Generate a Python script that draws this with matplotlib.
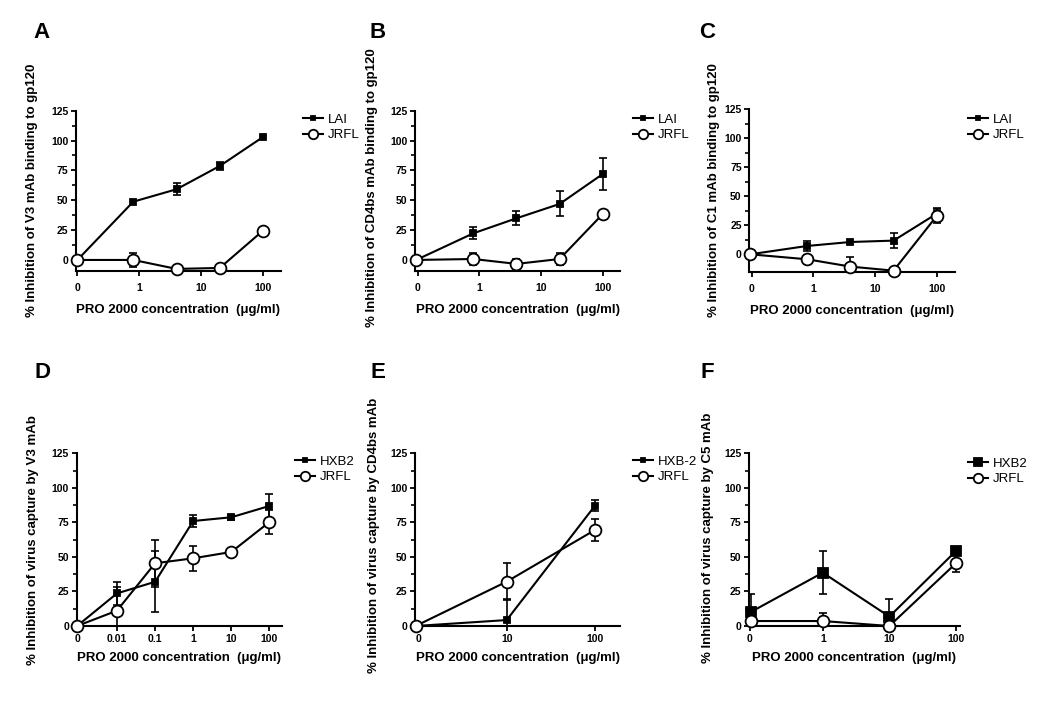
import numpy as np
import matplotlib
matplotlib.use("Agg")
import matplotlib.pyplot as plt
from matplotlib.ticker import FixedLocator, NullLocator

plt.rcParams['font.family'] = ['Liberation Sans', 'DejaVu Sans']

# ---------------- data ----------------
# Panel A: V3 mAb binding to gp120
conc_A = [0, 0.8, 4, 20, 100]
A_LAI = [0, 48.8, 59.2, 78.7, 103]
A_LAI_err = [0, 0, 5, 3.5, 0]
A_JRFL = [0, 0, -7.5, -6.7, 24.6]
A_JRFL_err = [0, 6, 0, 0, 0]

# Panel B: CD4bs mAb binding to gp120
conc_B = [0, 0.8, 4, 20, 100]
B_LAI = [0, 22.3, 34.9, 46.9, 72]
B_LAI_err = [0, 5, 6, 10.5, 13]
B_JRFL = [0, 0.8, -3.3, 0.8, 38.5]
B_JRFL_err = [0, 5, 4, 5, 0]

# Panel C: C1 mAb binding to gp120
conc_C = [0, 0.8, 4, 20, 100]
C_LAI = [0, 7.2, 10.6, 11.8, 35]
C_LAI_err = [0, 4.5, 0, 6.5, 5]
C_JRFL = [0, -4.3, -10.6, -14.1, 33]
C_JRFL_err = [0, 4, 8, 0, 6.3]

# Panel D: virus capture by V3 mAb
conc_D = [0, 0.01, 0.1, 1, 10, 100]
D_HXB2 = [0, 23.6, 32, 76, 78.7, 86.9]
D_HXB2_err = [0, 8.4, 22, 4, 2, 8.7]
D_JRFL = [0, 11.1, 45.4, 49, 53.6, 75.3]
D_JRFL_err = [0, 17.4, 17, 9, 0, 8.7]

# Panel E: virus capture by CD4bs mAb
conc_E = [0, 10, 100]
E_HXB2 = [0, 4.3, 87.1]
E_HXB2_err = [0, 15, 4.1]
E_JRFL = [0, 32.1, 69.5]
E_JRFL_err = [0, 13.3, 8]

# Panel F: virus capture by C5 mAb
conc_F = [0, 1, 10, 100]
F_HXB2 = [10.4, 38.6, 6.8, 54.3]
F_HXB2_err = [12.5, 15.7, 12.5, 0]
F_JRFL = [3.6, 3.6, 0, 45.4]
F_JRFL_err = [0, 6, 0, 6.5]

yticks = [0, 25, 50, 75, 100, 125]
xlabel = "PRO 2000 concentration  (\u03bcg/ml)"

W, H = 1050, 702
fig = plt.figure(figsize=(W / 100, H / 100), dpi=100)


def add_axes_px(x0, x1, ytop, ybot):
    return fig.add_axes([x0 / W, 1 - ybot / H, (x1 - x0) / W, (ybot - ytop) / H])


def panel(box, letter, letter_xy, conc, s1, e1, n1, s2, e2, n2, ylabel, ylabel_xy,
          zero, xlim, ylim, xticks, xticklabels, legend_xy, sq_size=3.8,
          xpad=2, xlabelpad=6):
    ax = add_axes_px(*box)
    conc = np.asarray(conc, float)
    xpos = np.where(conc == 0, zero, conc)
    for vals, errs, mk, fc, ms, lab in [
        (s1, e1, 's', 'black', sq_size, n1),
        (s2, e2, 'o', 'white', 8.5, n2),
    ]:
        vals = np.asarray(vals, float)
        errs = np.asarray(errs, float)
        m = errs > 0
        if m.any():
            ax.errorbar(xpos[m], vals[m], yerr=errs[m], fmt='none', ecolor='black',
                        elinewidth=1.2, capsize=3, capthick=1.2, zorder=2)
        ax.plot(xpos, vals, '-', color='black', lw=1.5, marker=mk, ms=ms,
                mfc=fc, mec='black', mew=1.3, zorder=3, label=lab, clip_on=False)
    ax.set_xscale('log')
    ax.set_xlim(*xlim)
    ax.set_ylim(*ylim)
    ax.xaxis.set_major_locator(FixedLocator(xticks))
    ax.xaxis.set_minor_locator(NullLocator())
    ax.set_xticklabels(xticklabels)
    ax.yaxis.set_major_locator(FixedLocator(yticks))
    ax.yaxis.set_minor_locator(FixedLocator([12.5, 37.5, 62.5, 87.5, 112.5]))
    for sp in ['top', 'right']:
        ax.spines[sp].set_visible(False)
    for sp in ['left', 'bottom']:
        ax.spines[sp].set_linewidth(1.5)
    ax.tick_params(axis='both', which='major', length=3.5, width=1.3, direction='out',
                   labelsize=7.5, pad=2)
    ax.tick_params(axis='x', which='major', pad=xpad)
    ax.tick_params(axis='y', which='minor', length=3, width=1.2, direction='out')
    for t in ax.get_xticklabels() + ax.get_yticklabels():
        t.set_fontweight('bold')
    ax.set_xlabel(xlabel, fontsize=9.5, fontweight='bold', labelpad=xlabelpad)
    ax.set_ylabel(ylabel, fontsize=9.5, fontweight='bold')
    ax.yaxis.set_label_coords((ylabel_xy[0] + 6.5) / W, 1 - ylabel_xy[1] / H,
                              transform=fig.transFigure)
    fig.text(letter_xy[0] / W, 1 - letter_xy[1] / H, letter, fontsize=16,
             fontweight='bold', ha='center', va='center')
    ax.legend(loc='upper left', bbox_to_anchor=(legend_xy[0] / W, 1 - (legend_xy[1] - 7.5) / H),
              bbox_transform=fig.transFigure, frameon=False, fontsize=9.5,
              handlelength=1.5, handletextpad=0.4, labelspacing=0.25,
              borderpad=0, borderaxespad=0, numpoints=1, markerscale=0.8)
    return ax


panel((76, 281, 110.7, 270.7), 'A', (42, 32), conc_A, A_LAI, A_LAI_err, 'LAI',
      A_JRFL, A_JRFL_err, 'JRFL', "% Inhibition of V3 mAb binding to gp120", (32, 190),
      0.1, (0.095, 195), (-9, 125), [0.1, 1, 10, 100], ['0', '1', '10', '100'],
      (303, 121), xpad=5, xlabelpad=8)
panel((415, 620, 110.7, 270.7), 'B', (378, 32), conc_B, B_LAI, B_LAI_err, 'LAI',
      B_JRFL, B_JRFL_err, 'JRFL', "% Inhibition of CD4bs mAb binding to gp120", (372, 188),
      0.095, (0.091, 190), (-9, 125), [0.1, 1, 10, 100], ['0', '1', '10', '100'],
      (633, 121), xpad=5, xlabelpad=8)
panel((749.3, 955, 109.3, 271.7), 'C', (707, 32), conc_C, C_LAI, C_LAI_err, 'LAI',
      C_JRFL, C_JRFL_err, 'JRFL', "% Inhibition of C1 mAb binding to gp120", (713, 190),
      0.095, (0.092, 198), (-15, 125), [0.1, 1, 10, 100], ['0', '1', '10', '100'],
      (968, 121), xpad=5, xlabelpad=8)
panel((76.7, 281.7, 453.3, 626), 'D', (42, 373), conc_D, D_HXB2, D_HXB2_err, 'HXB2',
      D_JRFL, D_JRFL_err, 'JRFL', "% Inhibition of virus capture by V3 mAb", (33, 540),
      0.0009, (0.00088, 209), (0, 125), [0.0009, 0.01, 0.1, 1, 10, 100],
      ['0', '0.01', '0.1', '1', '10', '100'], (295, 463))
panel((415, 620, 453.3, 626), 'E', (378, 373), conc_E, E_HXB2, E_HXB2_err, 'HXB-2',
      E_JRFL, E_JRFL_err, 'JRFL', "% Inhibition of virus capture by CD4bs mAb", (373, 535),
      0.93, (0.915, 192), (0, 125), [1, 10, 100], ['0', '10', '100'], (633, 463))
panel((749, 960, 453.3, 626), 'F', (707, 373), conc_F, F_HXB2, F_HXB2_err, 'HXB2',
      F_JRFL, F_JRFL_err, 'JRFL', "% Inhibition of virus capture by C5 mAb", (707, 538),
      0.085, (0.078, 115), (0, 125), [0.08, 1, 10, 100], ['0', '1', '10', '100'],
      (968, 465), sq_size=6.5)

fig.savefig("out.png", dpi=100)
